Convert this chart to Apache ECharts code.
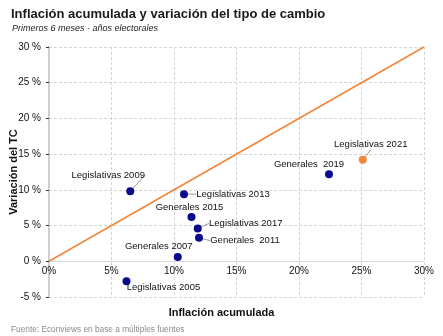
<!DOCTYPE html>
<html>
<head>
<meta charset="utf-8">
<script src="https://cdn.jsdelivr.net/npm/echarts@6/dist/echarts.min.js"></script>
<style>
  html, body { margin: 0; padding: 0; background: #fff; }
  #chart { width: 443px; height: 336px; }
</style>
</head>
<body>
<div id="chart"></div>
<script>
// Electoral years: accumulated inflation vs exchange-rate change (first 6 months, %)
const eleccion = ['Legislativas 2005', 'Generales 2007', 'Legislativas 2009', 'Generales  2011',
                  'Legislativas 2013', 'Generales 2015', 'Legislativas 2017', 'Generales  2019',
                  'Legislativas 2021'];
const inflacion   = [6.2, 10.3, 6.5, 12.0, 10.8, 11.4, 11.9, 22.4, 25.1];
const variacionTC = [-2.8, 0.6, 9.8, 3.3, 9.4, 6.2, 4.6, 12.2, 14.2];
const actual = 'Legislativas 2021';

// 45° reference line (inflation = exchange-rate change)
const diagonalX = [0, 30];
const diagonalY = [0, 30];

// Axis ranges and tick step
const xRange = [0, 30];
const yRange = [-5, 30];
const paso = 5;

// Label placement relative to each point: [dx, dy, guide line]
const etiquetas = {
  'Legislativas 2005': [37, 6, false],
  'Generales 2007':    [-19, -11, false],
  'Legislativas 2009': [-22, -16, true],
  'Generales  2011':   [46, 3, true],
  'Legislativas 2013': [49, 0, true],
  'Generales 2015':    [-2, -10, false],
  'Legislativas 2017': [48, -5, true],
  'Generales  2019':   [-20, -10, false],
  'Legislativas 2021': [8, -15, true]
};

const AZUL = '#0a0a8c';
const NARANJA = '#f2863a';
const FONT = '"Liberation Sans", Arial, sans-serif';

const GRID = { left: 49, right: 19, top: 47, bottom: 39 };

const puntos = eleccion.map((n, i) => ({
  name: n,
  value: [inflacion[i], variacionTC[i]],
  itemStyle: { color: n === actual ? NARANJA : AZUL, opacity: 1 },
  labelLine: { show: etiquetas[n][2] }
}));

const el = document.getElementById('chart');
const chart = echarts.init(el, null, { renderer: 'canvas' });

// The horizontal axis sits on the zero line of the vertical axis
const alto = el.clientHeight - GRID.top - GRID.bottom;
const desplazamientoCero = -alto * (0 - yRange[0]) / (yRange[1] - yRange[0]);

chart.setOption({
  animation: false,
  backgroundColor: '#fff',
  textStyle: { fontFamily: FONT },
  title: [
    {
      text: 'Inflación acumulada y variación del tipo de cambio',
      left: 6, top: 3,
      textStyle: { fontFamily: FONT, fontSize: 13, fontWeight: 'bold', color: '#1a1a1a' }
    },
    {
      text: 'Primeros 6 meses - años electorales',
      left: 7, top: 19,
      textStyle: { fontFamily: FONT, fontSize: 9, fontStyle: 'italic', fontWeight: 'normal', color: '#222' }
    },
    {
      text: 'Inflación acumulada',
      left: 'center', top: 302,
      textStyle: { fontFamily: FONT, fontSize: 11, fontWeight: 'bold', color: '#111' }
    },
    {
      text: 'Fuente: Econviews en base a múltiples fuentes',
      left: 6, top: 321,
      textStyle: { fontFamily: FONT, fontSize: 8.3, fontWeight: 'normal', color: '#8a8a8a' }
    }
  ],
  grid: Object.assign({ containLabel: false, outerBoundsMode: 'none' }, GRID),
  xAxis: {
    type: 'value',
    position: 'bottom',
    offset: desplazamientoCero,
    min: xRange[0], max: xRange[1], interval: paso,
    axisLine: { show: true, onZero: false, lineStyle: { color: '#d9d9d9', width: 1 } },
    axisTick: { show: false },
    axisLabel: { formatter: '{value}%', color: '#111', fontSize: 10, margin: 5, fontFamily: FONT },
    splitLine: { show: true, lineStyle: { color: '#d4d4d4', type: [3, 2], width: 1 } }
  },
  yAxis: {
    type: 'value',
    min: yRange[0], max: yRange[1], interval: paso,
    name: 'Variación del TC',
    nameLocation: 'middle',
    nameRotate: 90,
    nameGap: 30,
    nameMoveOverlap: false,
    nameTextStyle: { fontFamily: FONT, fontSize: 11, fontWeight: 'bold', color: '#111' },
    axisLine: { show: true, onZero: false, lineStyle: { color: '#cfcfcf', width: 2 } },
    axisTick: { show: true, length: 3, lineStyle: { color: '#333', width: 1 } },
    axisLabel: { formatter: '{value} %', color: '#111', fontSize: 10, margin: 8, fontFamily: FONT },
    splitLine: { show: true, lineStyle: { color: '#d4d4d4', type: [3, 2], width: 1 } }
  },
  series: [
    {
      type: 'line',
      data: diagonalX.map((x, i) => [x, diagonalY[i]]),
      symbol: 'none',
      lineStyle: { color: NARANJA, width: 1.6 },
      silent: true,
      z: 2
    },
    {
      type: 'scatter',
      data: puntos,
      symbolSize: 8,
      z: 3,
      label: {
        show: true,
        position: 'inside',
        formatter: '{b}',
        color: '#111',
        fontSize: 9.5,
        fontFamily: FONT
      },
      labelLine: { show: true, length2: 0, lineStyle: { color: '#999', width: 1 } },
      labelLayout: (p) => {
        const o = etiquetas[eleccion[p.dataIndex]];
        return { dx: o[0], dy: o[1] };
      }
    }
  ]
});
</script>
</body>
</html>
